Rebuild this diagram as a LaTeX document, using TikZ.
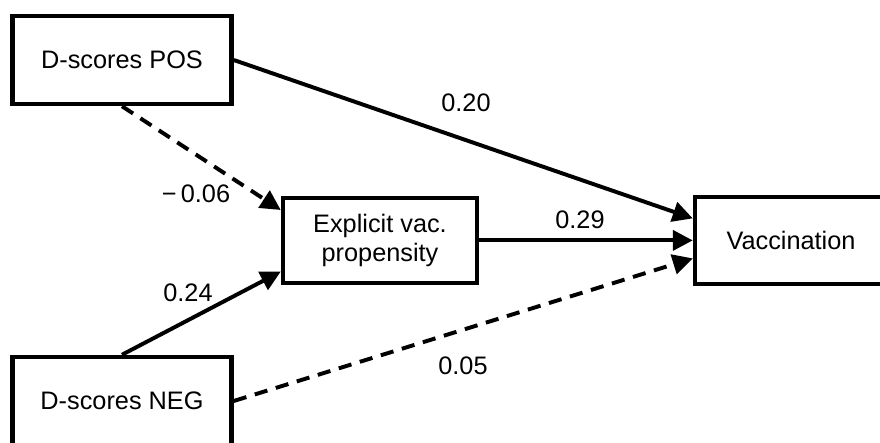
\documentclass[tikz,border=0pt]{standalone}
\usepackage{fontspec}
\setmainfont{Liberation Sans}
\usetikzlibrary{arrows.meta}

\begin{document}
\begin{tikzpicture}[
        box/.style = {draw, line width = 3.2pt, minimum width = 5.475cm, minimum height = 2.2cm, align = center, font = \fontsize{18}{20}\selectfont},
        link/.style = {line width = 2.8pt, -{Triangle[length = 0.5cm, width = 0.5cm]}},
        dashlink/.style = {link, dash pattern = on 0.33cm off 0.22cm},
        lbl/.style = {font = \fontsize{18}{20}\selectfont}
    ]

        % Page
        \useasboundingbox (0, 0) rectangle (22, 11.05);

        % Boxes
        \node[box] (pos) at (3.05, 9.55) {D-scores POS};
        \node[box] (neg) at (3.05, 1.025) {D-scores NEG};
        \node[box, minimum width = 4.85cm, minimum height = 2.125cm] (expl) at (9.5, 5.04) {Explicit vac.\\propensity};
        \node[box, minimum width = 4.8cm, minimum height = 2.175cm] (vacc) at (19.775, 5.04) {Vaccination};

        % Paths
        \draw[link] (pos.east) -- ([yshift = 0.55cm]vacc.west);
        \draw[dashlink] (pos.south) -- ([yshift = 0.76cm]expl.west);
        \draw[link] (neg.north) -- ([yshift = -0.78cm]expl.west);
        \draw[link] (expl) -- (vacc);
        \draw[dashlink] (neg.east) -- ([yshift = -0.45cm]vacc.west);

        % Coefficients
        \node[lbl] (c20) at (11.65, 8.475) {0.20};
        \node[lbl] (c06) at (4.9, 6.2) {−\,0.06};
        \node[lbl] (c24) at (4.7, 3.725) {0.24};
        \node[lbl] (c29) at (14.5, 5.55) {0.29};
        \node[lbl] (c05) at (11.575, 1.9) {0.05};
    \end{tikzpicture}
\end{document}
